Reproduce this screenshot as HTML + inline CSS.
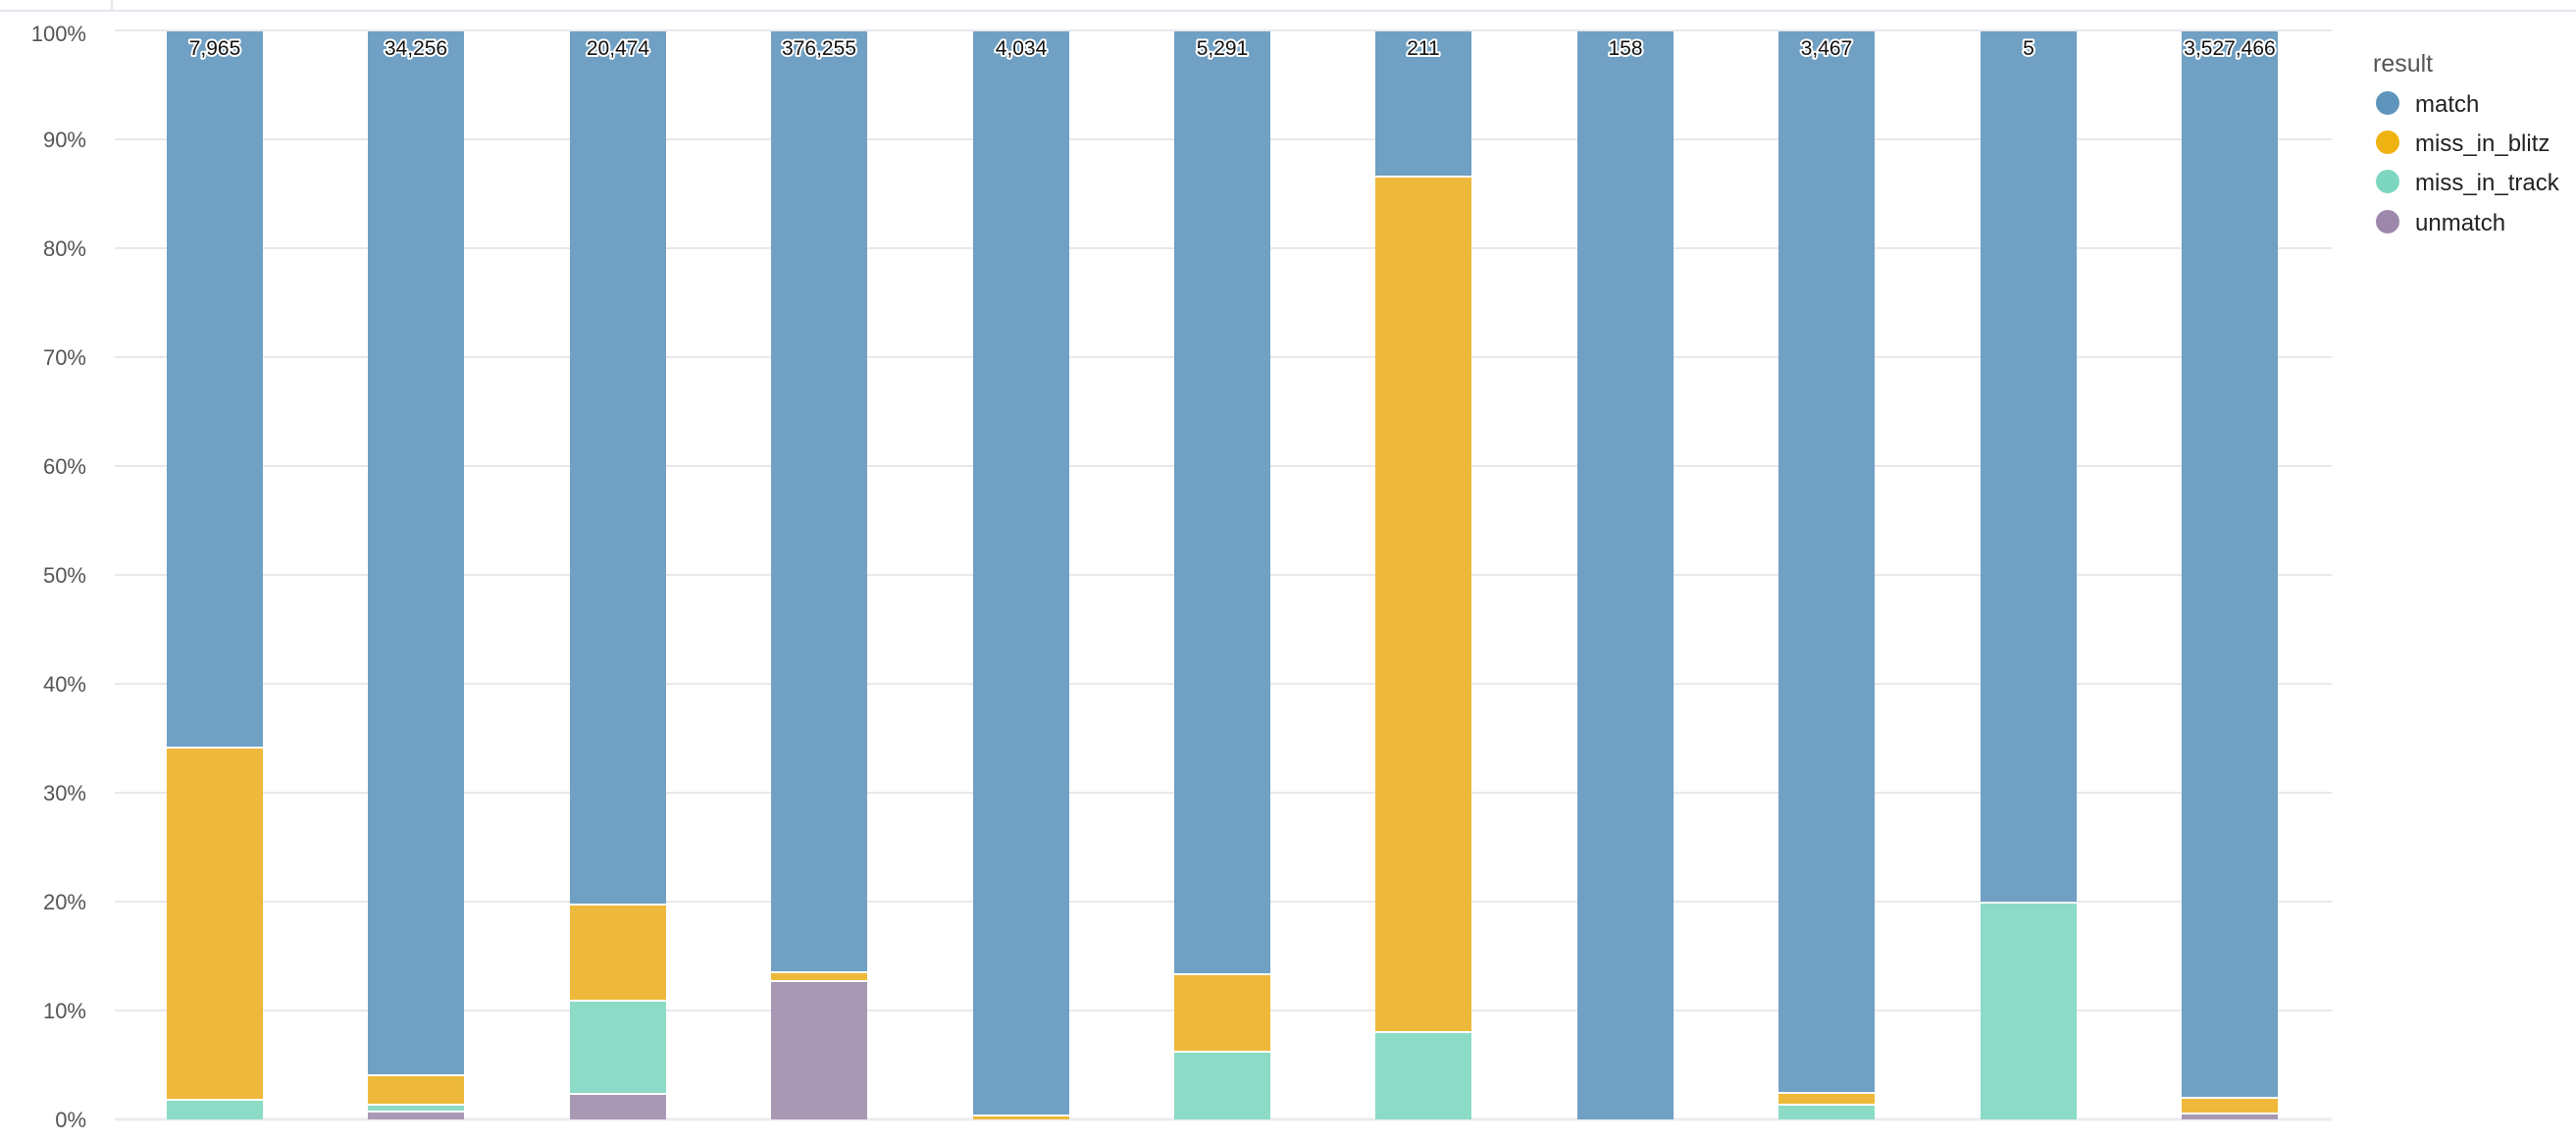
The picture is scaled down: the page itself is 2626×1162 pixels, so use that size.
<!DOCTYPE html>
<html><head><meta charset="utf-8"><style>
html,body{margin:0;padding:0;background:#fff;}
svg{display:block;font-family:"Liberation Sans",sans-serif;}
.yl{font-size:22px;fill:#555;text-anchor:end;}
.bl{font-size:21px;fill:#111;text-anchor:middle;stroke:#fff;stroke-width:4px;paint-order:stroke;stroke-linejoin:round;}
.lg{font-size:24px;fill:#222;}
.m{fill:#70a0c3}.b{fill:#eeb93a}.t{fill:#8bdbc6}.u{fill:#a898b4}
</style></head><body>
<svg width="2626" height="1162" viewBox="0 0 2626 1162">
<line x1="0" y1="11" x2="2626" y2="11" stroke="#e6e6ee" stroke-width="2"/>
<line x1="114" y1="0" x2="114" y2="11" stroke="#e6e6ee" stroke-width="2"/>
<g stroke="#e8e8ec" stroke-width="2">
<line x1="117" x2="2377" y1="1141" y2="1141" stroke="#ebebf0" stroke-width="3"/>
<line x1="117" x2="2377" y1="1030" y2="1030"/>
<line x1="117" x2="2377" y1="919" y2="919"/>
<line x1="117" x2="2377" y1="808" y2="808"/>
<line x1="117" x2="2377" y1="697" y2="697"/>
<line x1="117" x2="2377" y1="586" y2="586"/>
<line x1="117" x2="2377" y1="475" y2="475"/>
<line x1="117" x2="2377" y1="364" y2="364"/>
<line x1="117" x2="2377" y1="253" y2="253"/>
<line x1="117" x2="2377" y1="142" y2="142"/>
<line x1="117" x2="2377" y1="31" y2="31"/>
</g>
<g class="yl">
<text x="88" y="1149">0%</text>
<text x="88" y="1038">10%</text>
<text x="88" y="927">20%</text>
<text x="88" y="816">30%</text>
<text x="88" y="705">40%</text>
<text x="88" y="594">50%</text>
<text x="88" y="483">60%</text>
<text x="88" y="372">70%</text>
<text x="88" y="261">80%</text>
<text x="88" y="150">90%</text>
<text x="88" y="42">100%</text>
</g>
<!-- bar 1 -->
<rect class="t" x="170" y="1122" width="98" height="19"/>
<rect class="b" x="170" y="763" width="98" height="357"/>
<rect class="m" x="170" y="32" width="98" height="729"/>
<!-- bar 2 -->
<rect class="u" x="375" y="1134" width="98" height="7"/>
<rect class="t" x="375" y="1127" width="98" height="5"/>
<rect class="b" x="375" y="1097" width="98" height="28"/>
<rect class="m" x="375" y="32" width="98" height="1063"/>
<!-- bar 3 -->
<rect class="u" x="581" y="1116" width="98" height="25"/>
<rect class="t" x="581" y="1021" width="98" height="93"/>
<rect class="b" x="581" y="923" width="98" height="96"/>
<rect class="m" x="581" y="32" width="98" height="889"/>
<!-- bar 4 -->
<rect class="u" x="786" y="1001" width="98" height="140"/>
<rect class="b" x="786" y="992" width="98" height="7"/>
<rect class="m" x="786" y="32" width="98" height="958"/>
<!-- bar 5 -->
<rect class="b" x="992" y="1138" width="98" height="3"/>
<rect class="m" x="992" y="32" width="98" height="1104"/>
<!-- bar 6 -->
<rect class="t" x="1197" y="1073" width="98" height="68"/>
<rect class="b" x="1197" y="994" width="98" height="77"/>
<rect class="m" x="1197" y="32" width="98" height="960"/>
<!-- bar 7 -->
<rect class="t" x="1402" y="1053" width="98" height="88"/>
<rect class="b" x="1402" y="181" width="98" height="870"/>
<rect class="m" x="1402" y="32" width="98" height="147"/>
<!-- bar 8 -->
<rect class="m" x="1608" y="32" width="98" height="1109"/>
<!-- bar 9 -->
<rect class="t" x="1813" y="1127" width="98" height="14"/>
<rect class="b" x="1813" y="1115" width="98" height="10"/>
<rect class="m" x="1813" y="32" width="98" height="1081"/>
<!-- bar 10 -->
<rect class="t" x="2019" y="921" width="98" height="220"/>
<rect class="m" x="2019" y="32" width="98" height="887"/>
<!-- bar 11 -->
<rect class="u" x="2224" y="1136" width="98" height="5"/>
<rect class="b" x="2224" y="1120" width="98" height="14"/>
<rect class="m" x="2224" y="32" width="98" height="1086"/>
<g class="bl">
<text x="219" y="56">7,965</text>
<text x="424" y="56">34,256</text>
<text x="630" y="56">20,474</text>
<text x="835" y="56">376,255</text>
<text x="1041" y="56">4,034</text>
<text x="1246" y="56">5,291</text>
<text x="1451" y="56">211</text>
<text x="1657" y="56">158</text>
<text x="1862" y="56">3,467</text>
<text x="2068" y="56">5</text>
<text x="2273" y="56">3,527,466</text>
</g>
<text x="2419" y="73" style="font-size:25px;fill:#555">result</text>
<circle cx="2434" cy="105" r="12" fill="#5f95bc"/>
<circle cx="2434" cy="145" r="12" fill="#eeb311"/>
<circle cx="2434" cy="185" r="12" fill="#7dd7c0"/>
<circle cx="2434" cy="226" r="12" fill="#9d88ac"/>
<text class="lg" x="2462" y="114">match</text>
<text class="lg" x="2462" y="154">miss_in_blitz</text>
<text class="lg" x="2462" y="194">miss_in_track</text>
<text class="lg" x="2462" y="235">unmatch</text>
</svg>
</body></html>
